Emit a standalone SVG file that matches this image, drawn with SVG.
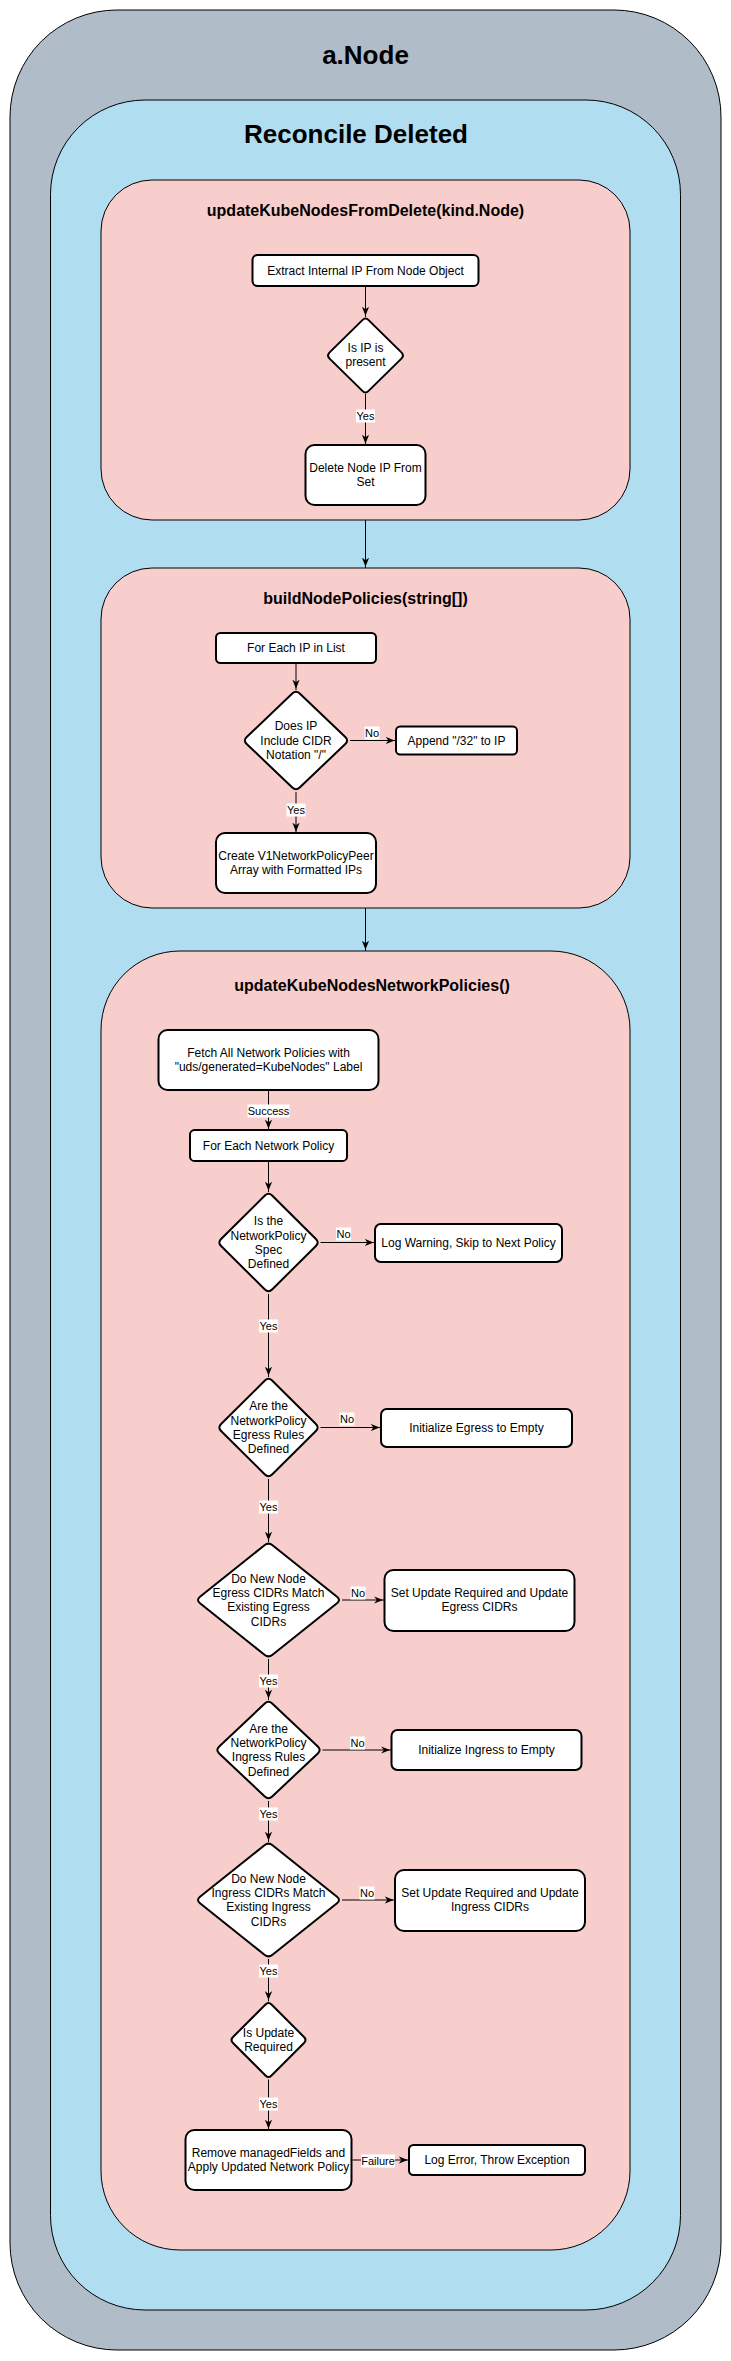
<svg xmlns="http://www.w3.org/2000/svg" width="731" height="2361" viewBox="0 0 731 2361">
<style>
.t{font-family:"Liberation Sans",Arial,sans-serif;fill:#000;text-anchor:middle}
.big{font-size:26px;font-weight:bold}
.sub{font-size:16px;font-weight:bold}
.bx{font-size:12px}
.lb{font-size:11px}
.node{fill:#fff;stroke:#000;stroke-width:2}
.cont{stroke:#000;stroke-width:1}
.e{stroke:#000;stroke-width:1;fill:none;marker-end:url(#arr)}
.lbg{fill:#fff}
</style>
<defs>
<marker id="arr" viewBox="0 0 10 8" refX="11.5" refY="4" markerWidth="9" markerHeight="7.2" markerUnits="userSpaceOnUse" orient="auto">
<path d="M0,0 L10,4 L0,8 L3,4 Z" fill="#000"/>
</marker>
</defs>
<g id="container-anode">
<rect class="cont" x="10" y="10" width="711" height="2340" rx="107" ry="107" fill="#B0BCC8"/>
<text class="t big" x="365.5" y="64">a.Node</text>
</g>
<g id="container-reconcile">
<rect class="cont" x="50.5" y="100" width="630" height="2210" rx="94.5" ry="94.5" fill="#B1DDF0"/>
<text class="t big" x="356" y="143">Reconcile Deleted</text>
</g>
<g id="container-updateFromDelete">
<rect class="cont" x="101" y="180" width="529" height="340" rx="51" ry="51" fill="#F8CECC"/>
<text class="t sub" x="365.5" y="216">updateKubeNodesFromDelete(kind.Node)</text>
</g>
<g id="container-buildNodePolicies">
<rect class="cont" x="101" y="568" width="529" height="340" rx="51" ry="51" fill="#F8CECC"/>
<text class="t sub" x="365.5" y="604">buildNodePolicies(string[])</text>
</g>
<g id="container-updateNetworkPolicies">
<rect class="cont" x="101" y="951" width="529" height="1299" rx="79" ry="79" fill="#F8CECC"/>
<text class="t sub" x="372" y="991">updateKubeNodesNetworkPolicies()</text>
</g>

<g id="connectors">
<line class="e" x1="365.5" y1="286" x2="365.5" y2="317"/>
<line class="e" x1="365.5" y1="394" x2="365.5" y2="445"/>
<line class="e" x1="365.5" y1="520" x2="365.5" y2="568"/>
<line class="e" x1="296" y1="663" x2="296" y2="690"/>
<line class="e" x1="350" y1="740.5" x2="396" y2="740.5"/>
<line class="e" x1="296" y1="792" x2="296" y2="833"/>
<line class="e" x1="365.5" y1="908" x2="365.5" y2="951"/>
<line class="e" x1="268.5" y1="1091" x2="268.5" y2="1130"/>
<line class="e" x1="268.5" y1="1162" x2="268.5" y2="1192"/>
<line class="e" x1="320.5" y1="1242.5" x2="375" y2="1242.5"/>
<line class="e" x1="268.5" y1="1294" x2="268.5" y2="1377"/>
<line class="e" x1="320.5" y1="1427.5" x2="381" y2="1427.5"/>
<line class="e" x1="268.5" y1="1479" x2="268.5" y2="1542"/>
<line class="e" x1="342" y1="1600" x2="384.5" y2="1600"/>
<line class="e" x1="268.5" y1="1659" x2="268.5" y2="1700"/>
<line class="e" x1="322.5" y1="1750" x2="391.5" y2="1750"/>
<line class="e" x1="268.5" y1="1801" x2="268.5" y2="1842"/>
<line class="e" x1="342" y1="1900" x2="395" y2="1900"/>
<line class="e" x1="268.5" y1="1959" x2="268.5" y2="2001.5"/>
<line class="e" x1="268.5" y1="2079.5" x2="268.5" y2="2130"/>
<line class="e" x1="352.5" y1="2160" x2="409" y2="2160"/>
<g id="edge-labels">
<rect class="lbg" x="356" y="409.5" width="19" height="13"/><text class="t lb" x="365.5" y="420">Yes</text>
<rect class="lbg" x="364.5" y="726.5" width="15" height="13"/><text class="t lb" x="372" y="737">No</text>
<rect class="lbg" x="286.5" y="803.5" width="19" height="13"/><text class="t lb" x="296" y="814">Yes</text>
<rect class="lbg" x="247.5" y="1104.5" width="42" height="13"/><text class="t lb" x="268.5" y="1115">Success</text>
<rect class="lbg" x="336" y="1227.5" width="15" height="13"/><text class="t lb" x="343.5" y="1238">No</text>
<rect class="lbg" x="259" y="1319.5" width="19" height="13"/><text class="t lb" x="268.5" y="1330">Yes</text>
<rect class="lbg" x="339.5" y="1412.5" width="15" height="13"/><text class="t lb" x="347" y="1423">No</text>
<rect class="lbg" x="259" y="1500.5" width="19" height="13"/><text class="t lb" x="268.5" y="1511">Yes</text>
<rect class="lbg" x="350.5" y="1586.5" width="15" height="13"/><text class="t lb" x="358" y="1597">No</text>
<rect class="lbg" x="259" y="1674.5" width="19" height="13"/><text class="t lb" x="268.5" y="1685">Yes</text>
<rect class="lbg" x="350" y="1736.5" width="15" height="13"/><text class="t lb" x="357.5" y="1747">No</text>
<rect class="lbg" x="259" y="1807.5" width="19" height="13"/><text class="t lb" x="268.5" y="1818">Yes</text>
<rect class="lbg" x="359.5" y="1886.5" width="15" height="13"/><text class="t lb" x="367" y="1897">No</text>
<rect class="lbg" x="259" y="1964.5" width="19" height="13"/><text class="t lb" x="268.5" y="1975">Yes</text>
<rect class="lbg" x="259" y="2097.5" width="19" height="13"/><text class="t lb" x="268.5" y="2108">Yes</text>
<rect class="lbg" x="361" y="2154.5" width="34" height="13"/><text class="t lb" x="378" y="2165">Failure</text>
</g>
</g>

<g id="n-extract">
<rect class="node" x="252.5" y="255" width="226" height="31" rx="5"/>
<text class="t bx" x="365.5" y="274.5">Extract Internal IP From Node Object</text>
</g>
<g id="n-ip-present">
<path class="node" d="M368.6,320.1 L401.4,352.4 Q404.5,355.5 401.4,358.6 L368.6,390.9 Q365.5,394 362.4,390.9 L329.6,358.6 Q326.5,355.5 329.6,352.4 L362.4,320.1 Q365.5,317 368.6,320.1 Z"/>
<text class="t bx" x="365.5" y="352">Is IP is</text>
<text class="t bx" x="365.5" y="366.4">present</text>
</g>
<g id="n-delete-ip">
<rect class="node" x="305.5" y="445" width="120" height="60" rx="9"/>
<text class="t bx" x="365.5" y="472">Delete Node IP From</text>
<text class="t bx" x="365.5" y="486.4">Set</text>
</g>

<g id="n-foreach-ip">
<rect class="node" x="216" y="633" width="160" height="30" rx="4.5"/>
<text class="t bx" x="296" y="652">For Each IP in List</text>
</g>
<g id="n-cidr">
<path class="node" d="M299.7,693.5 L345.3,737 Q349,740.5 345.3,744 L299.7,787.5 Q296,791 292.3,787.5 L246.7,744 Q243,740.5 246.7,737 L292.3,693.5 Q296,690 299.7,693.5 Z"/>
<text class="t bx" x="296" y="730.3">Does IP</text>
<text class="t bx" x="296" y="744.7">Include CIDR</text>
<text class="t bx" x="296" y="759.1">Notation "/"</text>
</g>
<g id="n-append">
<rect class="node" x="396" y="726.5" width="121" height="28" rx="4.2"/>
<text class="t bx" x="456.5" y="744.7">Append "/32" to IP</text>
</g>
<g id="n-create-peer">
<rect class="node" x="216" y="833" width="160" height="60" rx="9"/>
<text class="t bx" x="296" y="860">Create V1NetworkPolicyPeer</text>
<text class="t bx" x="296" y="874.4">Array with Formatted IPs</text>
</g>

<g id="n-fetch">
<rect class="node" x="158.5" y="1030" width="220" height="60" rx="9"/>
<text class="t bx" x="268.5" y="1057">Fetch All Network Policies with</text>
<text class="t bx" x="268.5" y="1071.4">"uds/generated=KubeNodes" Label</text>
</g>
<g id="n-foreach-np">
<rect class="node" x="190" y="1130" width="157" height="31" rx="4.6"/>
<text class="t bx" x="268.5" y="1149.7">For Each Network Policy</text>
</g>
<g id="n-spec">
<path class="node" d="M272.1,1195.5 L315.9,1239 Q319.5,1242.5 315.9,1246 L272.1,1289.5 Q268.5,1293 264.9,1289.5 L221.1,1246 Q217.5,1242.5 221.1,1239 L264.9,1195.5 Q268.5,1192 272.1,1195.5 Z"/>
<text class="t bx" x="268.5" y="1225.1">Is the</text>
<text class="t bx" x="268.5" y="1239.5">NetworkPolicy</text>
<text class="t bx" x="268.5" y="1253.9">Spec</text>
<text class="t bx" x="268.5" y="1268.3">Defined</text>
</g>
<g id="n-log-warning">
<rect class="node" x="375" y="1224" width="187" height="38" rx="5.7"/>
<text class="t bx" x="468.5" y="1247.2">Log Warning, Skip to Next Policy</text>
</g>
<g id="n-egress-rules">
<path class="node" d="M272.1,1380.5 L315.9,1424 Q319.5,1427.5 315.9,1431 L272.1,1474.5 Q268.5,1478 264.9,1474.5 L221.1,1431 Q217.5,1427.5 221.1,1424 L264.9,1380.5 Q268.5,1377 272.1,1380.5 Z"/>
<text class="t bx" x="268.5" y="1410.1">Are the</text>
<text class="t bx" x="268.5" y="1424.5">NetworkPolicy</text>
<text class="t bx" x="268.5" y="1438.9">Egress Rules</text>
<text class="t bx" x="268.5" y="1453.3">Defined</text>
</g>
<g id="n-init-egress">
<rect class="node" x="381" y="1409" width="191" height="38" rx="5.7"/>
<text class="t bx" x="476.5" y="1432.2">Initialize Egress to Empty</text>
</g>
<g id="n-egress-cidrs">
<path class="node" d="M272.5,1545.2 L337,1596.8 Q341,1600 337,1603.2 L272.5,1654.8 Q268.5,1658 264.5,1654.8 L200,1603.2 Q196,1600 200,1596.8 L264.5,1545.2 Q268.5,1542 272.5,1545.2 Z"/>
<text class="t bx" x="268.5" y="1582.6">Do New Node</text>
<text class="t bx" x="268.5" y="1597">Egress CIDRs Match</text>
<text class="t bx" x="268.5" y="1611.4">Existing Egress</text>
<text class="t bx" x="268.5" y="1625.8">CIDRs</text>
</g>
<g id="n-set-egress">
<rect class="node" x="384.5" y="1570" width="190" height="61" rx="9"/>
<text class="t bx" x="479.5" y="1597">Set Update Required and Update</text>
<text class="t bx" x="479.5" y="1611.4">Egress CIDRs</text>
</g>
<g id="n-ingress-rules">
<path class="node" d="M272.2,1703.5 L317.8,1746.5 Q321.5,1750 317.8,1753.5 L272.2,1796.5 Q268.5,1800 264.8,1796.5 L219.2,1753.5 Q215.5,1750 219.2,1746.5 L264.8,1703.5 Q268.5,1700 272.2,1703.5 Z"/>
<text class="t bx" x="268.5" y="1732.6">Are the</text>
<text class="t bx" x="268.5" y="1747">NetworkPolicy</text>
<text class="t bx" x="268.5" y="1761.4">Ingress Rules</text>
<text class="t bx" x="268.5" y="1775.8">Defined</text>
</g>
<g id="n-init-ingress">
<rect class="node" x="391.5" y="1730" width="190" height="40" rx="6"/>
<text class="t bx" x="486.5" y="1754.2">Initialize Ingress to Empty</text>
</g>
<g id="n-ingress-cidrs">
<path class="node" d="M272.5,1845.2 L337,1896.8 Q341,1900 337,1903.2 L272.5,1954.8 Q268.5,1958 264.5,1954.8 L200,1903.2 Q196,1900 200,1896.8 L264.5,1845.2 Q268.5,1842 272.5,1845.2 Z"/>
<text class="t bx" x="268.5" y="1882.6">Do New Node</text>
<text class="t bx" x="268.5" y="1897">Ingress CIDRs Match</text>
<text class="t bx" x="268.5" y="1911.4">Existing Ingress</text>
<text class="t bx" x="268.5" y="1925.8">CIDRs</text>
</g>
<g id="n-set-ingress">
<rect class="node" x="395" y="1870" width="190" height="61" rx="9"/>
<text class="t bx" x="490" y="1897">Set Update Required and Update</text>
<text class="t bx" x="490" y="1911.4">Ingress CIDRs</text>
</g>
<g id="n-update-required">
<path class="node" d="M271.5,2004.5 L304,2037 Q307,2040 304,2043 L271.5,2075.5 Q268.5,2078.5 265.5,2075.5 L233,2043 Q230,2040 233,2037 L265.5,2004.5 Q268.5,2001.5 271.5,2004.5 Z"/>
<text class="t bx" x="268.5" y="2037">Is Update</text>
<text class="t bx" x="268.5" y="2051.4">Required</text>
</g>
<g id="n-apply">
<rect class="node" x="185.5" y="2130" width="166" height="60" rx="9"/>
<text class="t bx" x="268.5" y="2157">Remove managedFields and</text>
<text class="t bx" x="268.5" y="2171.4">Apply Updated Network Policy</text>
</g>
<g id="n-log-error">
<rect class="node" x="409" y="2145" width="176" height="30" rx="4.5"/>
<text class="t bx" x="497" y="2164.2">Log Error, Throw Exception</text>
</g>
</svg>
